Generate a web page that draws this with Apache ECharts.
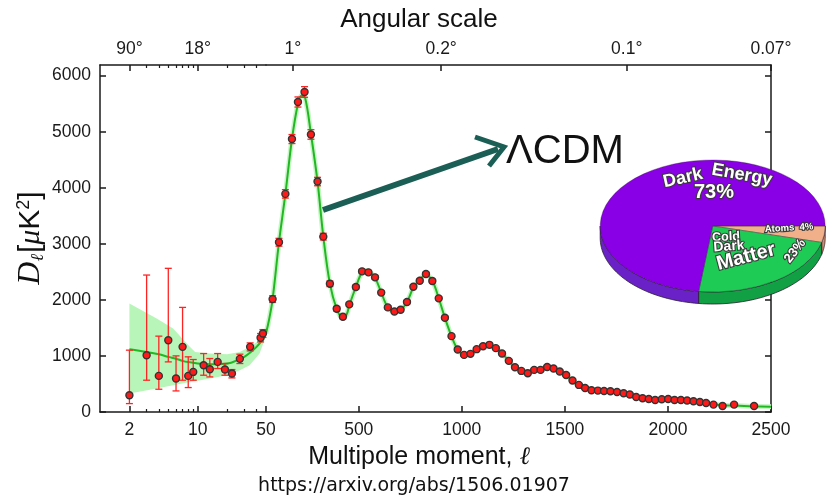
<!DOCTYPE html>
<html><head><meta charset="utf-8">
<script src="https://cdn.jsdelivr.net/npm/echarts@6/dist/echarts.min.js"></script>
<style>html,body{margin:0;padding:0;background:#fff}#c{width:827px;height:498px}</style>
</head><body><div id="c"></div>
<script>
// ---------- data ----------
const lowEll   = [2,3,4,5,6,7,8,9,11.5,13.3,16,19,22.4,27,34.4,44,46.5];
const lowD     = [298,1013,644,1281,597,1162,644,715,835,763,894,757,686,948,1162,1323,1401];
const lowErrLo = [150,567,406,894,376,567,436,567,656,626,775,656,608,865,1090,1250,1330];
const lowErrHi = [1103,2443,1353,2563,1001,1866,984,936,1043,954,1043,865,757,1031,1233,1400,1470];

const highEll = [82,113,144,176,205,237,268,300,328,360,393,423,454,486,516,547,579,609,641,673,703,734,765,796,826,857,888,918,950,980,1011,1042,1072,1103,1134,1165,1195,1228,1258,1289,1320,1351,1382,1414,1445,1475,1506,1537,1568,1598,1629,1660,1690,1721,1753,1785,1815,1846,1877,1907,1938,1970,2001,2032,2063,2093,2124,2155,2185,2221,2265,2321,2418];
const highD   = [2014,3028,3891,4869,5530,5709,4951,4111,3128,2288,1841,1698,1920,2229,2509,2491,2402,2130,1866,1794,1823,1961,2234,2341,2461,2336,2027,1680,1353,1115,1019,1037,1121,1174,1198,1139,1044,912,799,733,692,751,751,804,776,722,661,561,483,429,388,382,375,370,357,334,311,268,245,232,214,227,232,214,214,204,191,179,161,132,107,132,107];
const highErr = [60,70,75,80,90,95,85,75,60,50,
                 40,35,35,35,35,35,35,30,30,30,
                 30,30,30,30,30,30,28,28,28,25,
                 25,25,25,25,25,25,25,25,25,25,
                 25,25,25,25,25,25,25,22,22,22,
                 20,20,20,20,20,20,20,20,20,20,
                 20,20,20,20,20,20,20,20,20,20,
                 20,25,25];

const modelLowEll = [2,3,4,5,6,7,8,10,12,15,18,22,26,30,35,40,45,50];
const modelLowD   = [1120,1072,1030,983,950,912,890,865,855,850,855,880,930,983,1070,1162,1270,1401];
const modelHighEll = [50,65,82,113,144,176,205,222,240,268,300,328,360,393,420,440,454,486,516,540,578,609,641,672,703,734,765,796,825,857,888,918,950,980,1010,1040,1072,1103,1134,1165,1195,1228,1258,1289,1320,1350,1382,1414,1445,1475,1506,1537,1568,1598,1629,1660,1690,1721,1753,1784,1815,1846,1877,1907,1938,1970,2001,2032,2063,2093,2124,2155,2185,2221,2265,2321,2418,2500];
const modelHighD   = [1401,1650,2010,3030,3890,4870,5500,5640,5600,4960,4110,3130,2290,1840,1690,1730,1900,2230,2490,2520,2400,2130,1866,1790,1820,1960,2220,2360,2450,2340,2030,1680,1353,1115,1030,1040,1115,1170,1195,1140,1045,912,800,733,710,740,765,795,776,722,660,561,483,429,395,382,375,368,355,334,308,275,248,232,222,224,228,218,212,203,191,178,162,140,120,115,100,92];

const bandEll   = [2,3.8,5.6,8.3,9.4,13.3,20,27,34,43,50];
const bandUpper = [1937,1669,1490,1162,1072,1043,1031,1072,1162,1281,1450];
const bandLower = [329,418,477,536,550,597,656,745,835,1043,1360];

const yTicks     = [0,1000,2000,3000,4000,5000,6000];
const xMajorLog  = [2,10];
const xMajorLin  = [50,500,1000,1500,2000,2500];
const xMinorLog  = [3,4,5,6,7,8,9,20,30,40];
const angLogVals = [2,10];
const angLogText = ['90°','18°'];
const angLinVals = [180,900,1800,2500];
const angLinText = ['1°','0.2°','0.1°','0.07°'];

const pieNames  = ['Atoms','Cold Dark Matter','Dark Energy'];
const pieValues = [4,23,73];

// ---------- styling ----------
const AX = {color:'#1a1a1a', width:1.5};
const LBL = {fontFamily:'Liberation Sans', fontSize:17.5, color:'#1a1a1a'};
const Y_MAX = 6190;
const pieTop  = ['#f2b08a','#1ecb55','#8a00e6'];
const pieSide = ['#cf8c6c','#12a044','#6a22c8'];
const PIE = {cx:712.7, cy:226, rx:112.5, ry:66, t:12};

function lookup(vals, texts){
  return function(v){
    for (let i=0;i<vals.length;i++) if (Math.abs(v-vals[i]) < 1e-6*vals[i]+1e-9) return texts[i];
    return '';
  };
}
function errRender(params, api){
  const x = api.value(0), lo = api.value(1), hi = api.value(2);
  const a = api.coord([x, hi]), b = api.coord([x, lo]);
  const w = 3.5;
  const st = {stroke:'#ff2424', lineWidth:1.3};
  return {type:'group', children:[
    {type:'line', shape:{x1:a[0],y1:a[1],x2:b[0],y2:b[1]}, style:st},
    {type:'line', shape:{x1:a[0]-w,y1:a[1],x2:a[0]+w,y2:a[1]}, style:st},
    {type:'line', shape:{x1:b[0]-w,y1:b[1],x2:b[0]+w,y2:b[1]}, style:st}
  ]};
}
function bandRender(params, api){
  if (params.dataIndex !== 0) return {type:'group', children:[]};
  const pts = [];
  for (let i=0;i<bandEll.length;i++) pts.push(api.coord([bandEll[i], bandUpper[i]]));
  for (let i=bandEll.length-1;i>=0;i--) pts.push(api.coord([bandEll[i], bandLower[i]]));
  return {type:'polygon', shape:{points:pts}, style:{fill:'#b8f5b8'}};
}
function pieAng(i){
  const tot = pieValues.reduce((a,b)=>a+b,0);
  let s = 0; for (let k=0;k<i;k++) s += pieValues[k];
  return [s/tot*2*Math.PI, (s+pieValues[i])/tot*2*Math.PI];
}
function pieSideRender(params, api){
  const i = params.dataIndex;
  const [a0,a1] = pieAng(i);
  const s = Math.max(a0,0), e = Math.min(a1,Math.PI);
  if (e <= s) return {type:'group', children:[]};
  const pts = [], N = 40;
  for (let k=0;k<=N;k++){const a=s+(e-s)*k/N; pts.push([PIE.cx+PIE.rx*Math.cos(a), PIE.cy+PIE.ry*Math.sin(a)]);}
  for (let k=N;k>=0;k--){const a=s+(e-s)*k/N; pts.push([PIE.cx+PIE.rx*Math.cos(a), PIE.cy+PIE.ry*Math.sin(a)+PIE.t]);}
  return {type:'polygon', shape:{points:pts}, style:{fill:pieSide[i], stroke:'#2a2030', lineWidth:0.8}};
}
function pieTopRender(params, api){
  const i = params.dataIndex;
  const [a0,a1] = pieAng(i);
  return {type:'group', x:PIE.cx, y:PIE.cy, scaleY:PIE.ry/PIE.rx, children:[
    {type:'sector', shape:{cx:0, cy:0, r:PIE.rx, r0:0, startAngle:a0, endAngle:a1, clockwise:true},
     style:{fill:pieTop[i], stroke:'rgba(40,20,50,0.55)', lineWidth:0.8, strokeNoScale:true}}
  ]};
}

function txt(x, y, text, font, extra){
  return Object.assign({type:'text', x:x, y:y, z:100,
    style:Object.assign({text:text, font:font, fill:'#111',
      textAlign:'center', textVerticalAlign:'middle', align:'center', verticalAlign:'middle'}, (extra&&extra.style)||{})},
    (extra&&extra.el)||{});
}
function pieTxt(x, y, text, size, rot){
  return txt(x, y, text, 'bold '+size+'px "Liberation Sans"',
    {style:{fill:'#ffffff', stroke:'#3a3a3a', lineWidth:2.2}, el:{rotation:rot||0}});
}

// arrow geometry (annotation)
const arrowTip = [504,147], arrowTail = [323,210];

const chart = echarts.init(document.getElementById('c'), null, {renderer:'canvas'});
chart.setOption({
  animation:false,
  backgroundColor:'#ffffff',
  grid:[
    {left:100, top:65, width:166, height:347},
    {left:266, top:65, width:505, height:347},
    {left:100, top:65, width:166, height:347}
  ],
  xAxis:[
    {gridIndex:0, type:'log', logBase:10, min:1, max:50, position:'bottom',
     axisLine:{show:true, onZero:false, lineStyle:AX},
     axisTick:{show:true, inside:true, length:6, customValues:xMajorLog, lineStyle:AX},
     axisLabel:Object.assign({customValues:xMajorLog, margin:9, formatter:v=>String(Math.round(v))}, LBL),
     splitLine:{show:false}, minorTick:{show:false}},
    {gridIndex:0, type:'log', logBase:10, min:1, max:50, position:'top',
     axisLine:{show:true, onZero:false, lineStyle:AX},
     axisTick:{show:true, inside:true, length:6, customValues:angLogVals, lineStyle:AX},
     axisLabel:Object.assign({customValues:angLogVals, margin:7, formatter:lookup(angLogVals, angLogText)}, LBL),
     splitLine:{show:false}},
    {gridIndex:1, type:'value', min:50, max:2500, position:'bottom',
     axisLine:{show:true, onZero:false, lineStyle:AX},
     axisTick:{show:true, inside:true, length:6, customValues:xMajorLin, lineStyle:AX},
     axisLabel:Object.assign({customValues:xMajorLin, margin:9, formatter:v=>String(Math.round(v))}, LBL),
     splitLine:{show:false}},
    {gridIndex:1, type:'value', min:50, max:2500, position:'top',
     axisLine:{show:true, onZero:false, lineStyle:AX},
     axisTick:{show:true, inside:true, length:6, customValues:angLinVals, lineStyle:AX},
     axisLabel:Object.assign({customValues:angLinVals, margin:7, formatter:lookup(angLinVals, angLinText)}, LBL),
     splitLine:{show:false}},
    {gridIndex:2, type:'log', logBase:10, min:1, max:50, position:'bottom',
     axisLine:{show:false, onZero:false},
     axisTick:{show:true, inside:true, length:3, customValues:xMinorLog, lineStyle:{color:'#1a1a1a', width:1.2}},
     axisLabel:{show:false}, splitLine:{show:false}},
    {gridIndex:2, type:'log', logBase:10, min:1, max:50, position:'top',
     axisLine:{show:false, onZero:false},
     axisTick:{show:true, inside:true, length:3, customValues:xMinorLog, lineStyle:{color:'#1a1a1a', width:1.2}},
     axisLabel:{show:false}, splitLine:{show:false}}
  ],
  yAxis:[
    {gridIndex:0, type:'value', min:0, max:Y_MAX, position:'left',
     axisLine:{show:true, onZero:false, lineStyle:AX},
     axisTick:{show:true, inside:true, length:6, customValues:yTicks, lineStyle:AX},
     axisLabel:Object.assign({customValues:yTicks, margin:9, formatter:v=>String(Math.round(v))}, LBL),
     splitLine:{show:false}},
    {gridIndex:1, type:'value', min:0, max:Y_MAX, position:'right',
     axisLine:{show:true, onZero:false, lineStyle:AX},
     axisTick:{show:true, inside:true, length:6, customValues:yTicks, lineStyle:AX},
     axisLabel:{show:false}, splitLine:{show:false}},
    {gridIndex:2, type:'value', min:0, max:Y_MAX, show:false}
  ],
  series:[
    {type:'custom', name:'band', xAxisIndex:0, yAxisIndex:0, z:1, silent:true,
     renderItem:bandRender, encode:{x:0, y:[1,2]},
     data:bandEll.map((l,i)=>[l, bandLower[i], bandUpper[i]])},
    {type:'line', name:'halo', xAxisIndex:2, yAxisIndex:1, z:1, smooth:0.35, showSymbol:false, silent:true,
     lineStyle:{color:'#c8f4c8', width:5}, data:modelHighEll.map((l,i)=>[l, modelHighD[i]])},
    {type:'line', name:'model low', xAxisIndex:0, yAxisIndex:0, z:2, smooth:0.35, showSymbol:false,
     lineStyle:{color:'#22b822', width:2}, data:modelLowEll.map((l,i)=>[l, modelLowD[i]])},
    {type:'line', name:'model high', xAxisIndex:2, yAxisIndex:1, z:2, smooth:0.35, showSymbol:false,
     lineStyle:{color:'#22b822', width:2}, data:modelHighEll.map((l,i)=>[l, modelHighD[i]])},
    {type:'custom', name:'err low', xAxisIndex:0, yAxisIndex:0, z:3, renderItem:errRender, encode:{x:0, y:[1,2]},
     data:lowEll.map((l,i)=>[l, lowErrLo[i], lowErrHi[i]])},
    {type:'custom', name:'err high', xAxisIndex:2, yAxisIndex:1, z:3, renderItem:errRender, encode:{x:0, y:[1,2]},
     data:highEll.map((l,i)=>[l, highD[i]-highErr[i], highD[i]+highErr[i]])},
    {type:'scatter', name:'low', xAxisIndex:0, yAxisIndex:0, z:4, symbolSize:7,
     itemStyle:{color:'#ff1a1a', borderColor:'#333', borderWidth:1.4, opacity:1},
     data:lowEll.map((l,i)=>[l, lowD[i]])},
    {type:'scatter', name:'high', xAxisIndex:2, yAxisIndex:1, z:4, symbolSize:7,
     itemStyle:{color:'#ff1a1a', borderColor:'#333', borderWidth:1.4, opacity:1},
     data:highEll.map((l,i)=>[l, highD[i]])},
    {type:'custom', name:'pie side', coordinateSystem:'none', z:10, renderItem:pieSideRender,
     data:pieValues.map((v,i)=>({name:pieNames[i], value:v}))},
    {type:'custom', name:'pie top', coordinateSystem:'none', z:11, renderItem:pieTopRender,
     data:pieValues.map((v,i)=>({name:pieNames[i], value:v}))}
  ],
  graphic:[
    txt(419, 20, 'Angular scale', '26px "Liberation Sans"'),
    {type:'text', x:419, y:457, z:100, style:{
      text:'{a|Multipole moment, }{l|ℓ}', textAlign:'center', textVerticalAlign:'middle', align:'center', verticalAlign:'middle',
      rich:{a:{font:'25px "Liberation Sans"', fill:'#111'}, l:{font:'italic 25px "DejaVu Serif"', fill:'#111'}}}},
    txt(414, 486, 'https://arxiv.org/abs/1506.01907', '19px "DejaVu Sans"'),
    {type:'text', x:31, y:238, z:100, rotation:Math.PI/2, style:{
      text:'{d|D}{s|ℓ}{n|[}{m|μ}{n|K}{p|2}{n|]}', textAlign:'center', textVerticalAlign:'middle', align:'center', verticalAlign:'middle',
      rich:{d:{font:'italic 32px "Liberation Serif"', fill:'#111'},
            s:{font:'italic 18px "DejaVu Serif"', fill:'#111', verticalAlign:'bottom', padding:[10,1,0,0]},
            n:{font:'30px "Liberation Sans"', fill:'#111'},
            m:{font:'italic 30px "Liberation Serif"', fill:'#111'},
            p:{font:'18px "Liberation Sans"', fill:'#111', verticalAlign:'top', padding:[0,0,12,0]}}}},
    txt(565, 152, 'ΛCDM', '40px "Liberation Sans"'),
    {type:'polyline', z:100, shape:{points:[arrowTail, [arrowTip[0]-6, arrowTip[1]+2]]},
     style:{stroke:'#1b5e56', lineWidth:6, fill:null}},
    {type:'polyline', z:100, shape:{points:[[475,137],arrowTip,[489,166]]},
     style:{stroke:'#1b5e56', lineWidth:5, fill:null, lineJoin:'miter'}},
    pieTxt(683, 178, 'Dark', 18, 0.22),
    pieTxt(742, 175, 'Energy', 18, -0.18),
    pieTxt(714, 192, '73%', 20, 0),
    pieTxt(726, 237, 'Cold', 12.5, 0.05),
    pieTxt(729, 246.5, 'Dark', 14, 0.08),
    pieTxt(746, 257, 'Matter', 20, 0.26),
    pieTxt(795, 251, '23%', 13, 0.9),
    pieTxt(789, 228, 'Atoms  4%', 9.5, 0.06)
  ]
});
</script>
</body></html>
